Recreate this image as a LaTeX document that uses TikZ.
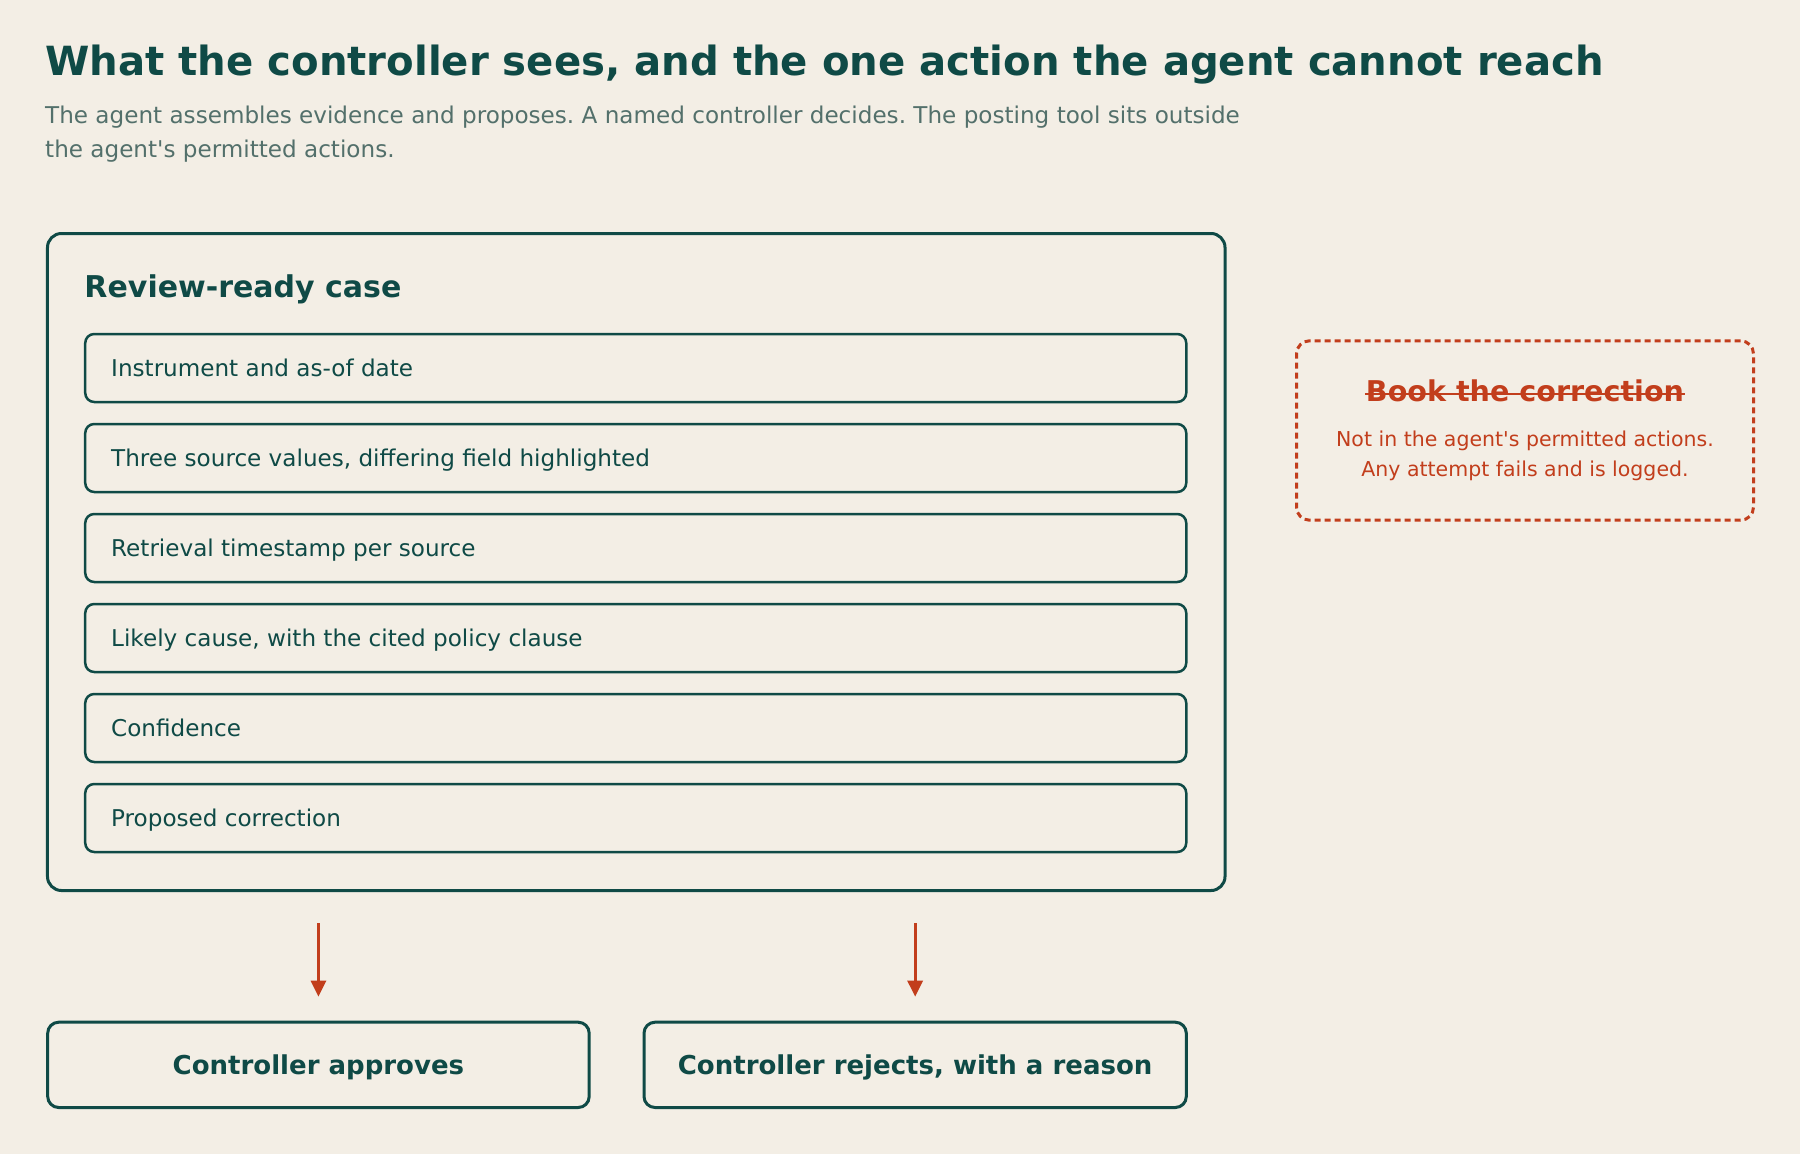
\documentclass[tikz,border=0pt]{standalone}
\usepackage{fontspec}
\setmainfont{DejaVu Sans}
\usetikzlibrary{arrows.meta}
\definecolor{bg}{HTML}{F3EEE5}
\definecolor{tealdark}{HTML}{0F4A46}
\definecolor{subgray}{HTML}{53706B}
\definecolor{rust}{HTML}{C23E1C}
\frenchspacing
\begin{document}
\begin{tikzpicture}[x=1bp,y=-1bp,
  txt/.style={inner sep=0pt, anchor=base west, text=tealdark},
  outerbox/.style={draw=tealdark, line width=3bp, rounded corners=14bp, inner sep=0pt},
  itembox/.style={draw=tealdark, line width=2.5bp, rounded corners=9bp, inner sep=0pt,
    minimum width=1101bp, minimum height=68bp},
  decbox/.style={draw=tealdark, line width=3bp, rounded corners=11bp, inner sep=0pt,
    minimum width=541.5bp, minimum height=85.3bp},
  dectext/.style={inner sep=0pt, anchor=base, text=tealdark,
    font=\bfseries\fontsize{26bp}{30bp}\selectfont},
  redbox/.style={draw=rust, line width=3bp, dash pattern=on 6bp off 4bp, rounded corners=13bp,
    inner sep=0pt, minimum width=457bp, minimum height=179.4bp},
  redtext/.style={inner sep=0pt, anchor=base, text=rust, font=\fontsize{20.5bp}{25bp}\selectfont},
  arr/.style={draw=rust, line width=3bp, -{Triangle[length=16bp,width=15bp]}},
  itemfont/.style={font=\fontsize{23.1bp}{34bp}\selectfont}
]
\useasboundingbox (0,0) rectangle (1800,1154);
\fill[bg] (0,0) rectangle (1800,1154);

% title and subtitle
\node[txt, font=\bfseries\fontsize{40.2bp}{48bp}\selectfont] (title) at (45,75)
  {What the controller sees, and the one action the agent cannot reach};
\node[txt, text=subgray, itemfont] (sub1) at (45,123)
  {The agent assembles evidence and proposes. A named controller decides. The posting tool sits outside};
\node[txt, text=subgray, itemfont] (sub2) at (45,157)
  {the agent\textquotesingle s permitted actions.};

% outer box
\node[outerbox, minimum width=1177.5bp, minimum height=657bp] (outer) at (636.25,562) {};
\node[txt, font=\bfseries\fontsize{30bp}{36bp}\selectfont] (head) at (84.3,297.7) {Review-ready case};

% items
\foreach \i/\t in {0/{Instrument and as-of date},
                   1/{Three source values, differing field highlighted},
                   2/{Retrieval timestamp per source},
                   3/{Likely cause, with the cited policy clause},
                   4/{Confidence},
                   5/{Proposed correction}}{
  \node[itembox] (item\i) at (635.75,368+90*\i) {};
  \node[txt, itemfont] (itemtext\i) at (111,376+90*\i) {\t};
}

% forbidden action
\node[redbox] (forbid) at (1525,430.5) {};
\node[inner sep=0pt, anchor=base, text=rust, font=\bfseries\fontsize{28.6bp}{34bp}\selectfont] (book) at (1525,401.7) {Book the correction};
\draw[rust, line width=2.6bp] ([yshift=7.8bp,xshift=-1bp]book.base west) -- ([yshift=7.8bp,xshift=1bp]book.base east);
\node[redtext] (note1) at (1525,446.7) {Not in the agent\textquotesingle s permitted actions.};
\node[redtext] (note2) at (1525,476) {Any attempt fails and is logged.};

% decisions
\node[decbox] (appr) at (318.45,1064.85) {};
\node[decbox, minimum width=542.3bp] (rej) at (915.15,1064.85) {};
\node[dectext] (apprtext) at (318.45,1074) {Controller approves};
\node[dectext] (rejtext) at (915.15,1074) {Controller rejects, with a reason};

% arrows
\draw[arr] ([yshift=-31bp]outer.south -| appr.north) -- ([yshift=24bp]appr.north);
\draw[arr] ([yshift=-31bp]outer.south -| rej.north) -- ([yshift=24bp]rej.north);
\end{tikzpicture}
\end{document}
